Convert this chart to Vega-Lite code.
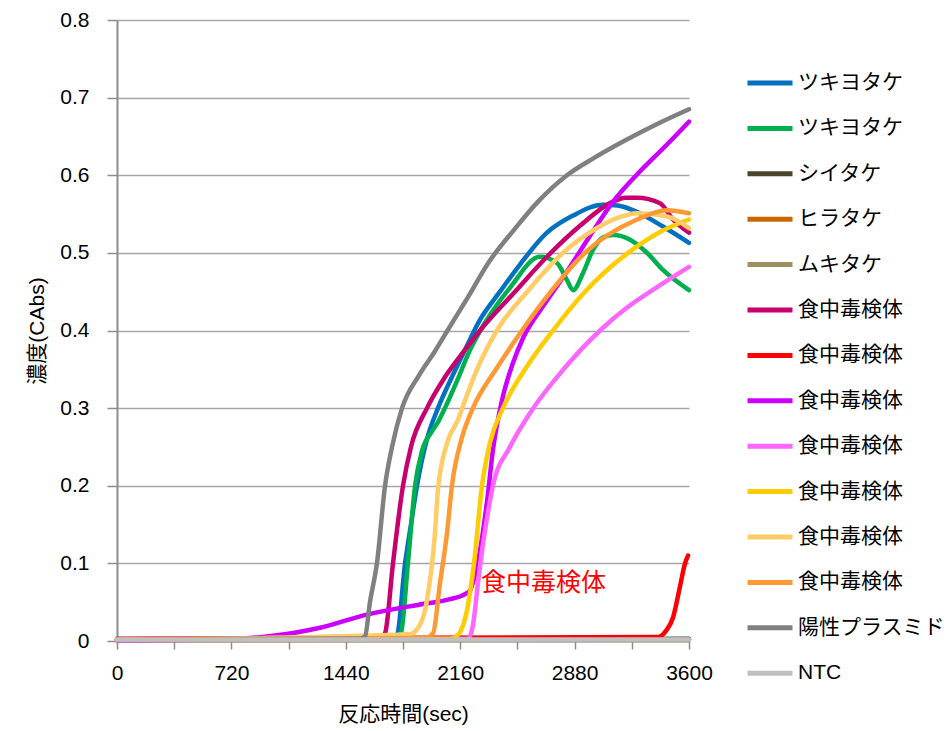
{
  "$schema": "https://vega.github.io/schema/vega-lite/v6.json",
  "width": 572,
  "height": 621,
  "autosize": {"type": "none"},
  "padding": {"left": 117, "top": 20, "right": 261, "bottom": 90},
  "background": "white",
  "config": {
    "view": {"stroke": null},
    "font": "Liberation Sans, Noto Sans CJK JP",
    "axis": {
      "labelFont": "Liberation Sans, Noto Sans CJK JP",
      "titleFont": "Liberation Sans, Noto Sans CJK JP",
      "labelFontSize": 21,
      "titleFontSize": 21,
      "titleFontWeight": "normal",
      "labelColor": "#000000",
      "titleColor": "#000000",
      "domainColor": "#8c8c8c",
      "domainWidth": 2,
      "tickColor": "#8c8c8c",
      "tickWidth": 1.5
    }
  },
  "datasets": {
    "curves": [
      {"s":"01 ツキヨタケ","t":0,"v":0.002},{"s":"01 ツキヨタケ","t":1718,"v":0.003},{"s":"01 ツキヨタケ","t":1762,"v":0.008},{"s":"01 ツキヨタケ","t":1813,"v":0.1},{"s":"01 ツキヨタケ","t":1850,"v":0.15},{"s":"01 ツキヨタケ","t":1888,"v":0.2},{"s":"01 ツキヨタケ","t":1951,"v":0.26},{"s":"01 ツキヨタケ","t":2020,"v":0.3},{"s":"01 ツキヨタケ","t":2096,"v":0.335},{"s":"01 ツキヨタケ","t":2190,"v":0.375},{"s":"01 ツキヨタケ","t":2285,"v":0.414},{"s":"01 ツキヨタケ","t":2410,"v":0.45},{"s":"01 ツキヨタケ","t":2536,"v":0.485},{"s":"01 ツキヨタケ","t":2706,"v":0.526},{"s":"01 ツキヨタケ","t":2870,"v":0.548},{"s":"01 ツキヨタケ","t":3059,"v":0.562},{"s":"01 ツキヨタケ","t":3150,"v":0.561},{"s":"01 ツキヨタケ","t":3247,"v":0.555},{"s":"01 ツキヨタケ","t":3436,"v":0.534},{"s":"01 ツキヨタケ","t":3600,"v":0.513},

      {"s":"02 ツキヨタケ","t":0,"v":0.002},{"s":"02 ツキヨタケ","t":1750,"v":0.003},{"s":"02 ツキヨタケ","t":1787,"v":0.01},{"s":"02 ツキヨタケ","t":1831,"v":0.1},{"s":"02 ツキヨタケ","t":1876,"v":0.2},{"s":"02 ツキヨタケ","t":1920,"v":0.245},{"s":"02 ツキヨタケ","t":1982,"v":0.27},{"s":"02 ツキヨタケ","t":2020,"v":0.282},{"s":"02 ツキヨタケ","t":2064,"v":0.3},{"s":"02 ツキヨタケ","t":2140,"v":0.335},{"s":"02 ツキヨタケ","t":2222,"v":0.375},{"s":"02 ツキヨタケ","t":2316,"v":0.41},{"s":"02 ツキヨタケ","t":2473,"v":0.455},{"s":"02 ツキヨタケ","t":2662,"v":0.495},{"s":"02 ツキヨタケ","t":2769,"v":0.487},{"s":"02 ツキヨタケ","t":2832,"v":0.465},{"s":"02 ツキヨタケ","t":2870,"v":0.452},{"s":"02 ツキヨタケ","t":2933,"v":0.474},{"s":"02 ツキヨタケ","t":2996,"v":0.504},{"s":"02 ツキヨタケ","t":3060,"v":0.52},{"s":"02 ツキヨタケ","t":3122,"v":0.523},{"s":"02 ツキヨタケ","t":3229,"v":0.517},{"s":"02 ツキヨタケ","t":3336,"v":0.5},{"s":"02 ツキヨタケ","t":3436,"v":0.478},{"s":"02 ツキヨタケ","t":3600,"v":0.452},

      {"s":"03 シイタケ","t":0,"v":0.002},{"s":"03 シイタケ","t":1800,"v":0.002},{"s":"03 シイタケ","t":3600,"v":0.003},
      {"s":"04 ヒラタケ","t":0,"v":0.002},{"s":"04 ヒラタケ","t":3600,"v":0.002},
      {"s":"05 ムキタケ","t":0,"v":0.001},{"s":"05 ムキタケ","t":3600,"v":0.002},

      {"s":"06 食中毒検体","t":0,"v":0.002},{"s":"06 食中毒検体","t":1655,"v":0.003},{"s":"06 食中毒検体","t":1687,"v":0.01},{"s":"06 食中毒検体","t":1737,"v":0.1},{"s":"06 食中毒検体","t":1800,"v":0.2},{"s":"06 食中毒検体","t":1850,"v":0.25},{"s":"06 食中毒検体","t":1951,"v":0.3},{"s":"06 食中毒検体","t":2064,"v":0.34},{"s":"06 食中毒検体","t":2190,"v":0.375},{"s":"06 食中毒検体","t":2285,"v":0.4},{"s":"06 食中毒検体","t":2505,"v":0.45},{"s":"06 食中毒検体","t":2706,"v":0.495},{"s":"06 食中毒検体","t":2914,"v":0.535},{"s":"06 食中毒検体","t":3122,"v":0.566},{"s":"06 食中毒検体","t":3200,"v":0.571},{"s":"06 食中毒検体","t":3273,"v":0.571},{"s":"06 食中毒検体","t":3418,"v":0.564},{"s":"06 食中毒検体","t":3499,"v":0.543},{"s":"06 食中毒検体","t":3600,"v":0.526},

      {"s":"07 食中毒検体","t":0,"v":0.003},{"s":"07 食中毒検体","t":3404,"v":0.005},{"s":"07 食中毒検体","t":3455,"v":0.013},{"s":"07 食中毒検体","t":3499,"v":0.03},{"s":"07 食中毒検体","t":3543,"v":0.07},{"s":"07 食中毒検体","t":3575,"v":0.1},{"s":"07 食中毒検体","t":3594,"v":0.11},

      {"s":"08 食中毒検体","t":0,"v":0.001},{"s":"08 食中毒検体","t":650,"v":0.002},{"s":"08 食中毒検体","t":900,"v":0.005},{"s":"08 食中毒検体","t":1100,"v":0.01},{"s":"08 食中毒検体","t":1278,"v":0.017},{"s":"08 食中毒検体","t":1573,"v":0.034},{"s":"08 食中毒検体","t":1907,"v":0.047},{"s":"08 食中毒検体","t":2077,"v":0.053},{"s":"08 食中毒検体","t":2196,"v":0.061},{"s":"08 食中毒検体","t":2222,"v":0.065},{"s":"08 食中毒検体","t":2253,"v":0.085},{"s":"08 食中毒検体","t":2285,"v":0.117},{"s":"08 食中毒検体","t":2329,"v":0.18},{"s":"08 食中毒検体","t":2366,"v":0.246},{"s":"08 食中毒検体","t":2423,"v":0.31},{"s":"08 食中毒検体","t":2492,"v":0.358},{"s":"08 食中毒検体","t":2555,"v":0.39},{"s":"08 食中毒検体","t":2694,"v":0.435},{"s":"08 食中毒検体","t":2832,"v":0.476},{"s":"08 食中毒検体","t":2977,"v":0.522},{"s":"08 食中毒検体","t":3122,"v":0.566},{"s":"08 食中毒検体","t":3273,"v":0.601},{"s":"08 食中毒検体","t":3449,"v":0.637},{"s":"08 食中毒検体","t":3600,"v":0.669},

      {"s":"09 食中毒検体","t":0,"v":0.001},{"s":"09 食中毒検体","t":2209,"v":0.003},{"s":"09 食中毒検体","t":2240,"v":0.02},{"s":"09 食中毒検体","t":2272,"v":0.075},{"s":"09 食中毒検体","t":2300,"v":0.12},{"s":"09 食中毒検体","t":2330,"v":0.16},{"s":"09 食中毒検体","t":2366,"v":0.2},{"s":"09 食中毒検体","t":2473,"v":0.25},{"s":"09 食中毒検体","t":2620,"v":0.3},{"s":"09 食中毒検体","t":2810,"v":0.35},{"s":"09 食中毒検体","t":3040,"v":0.4},{"s":"09 食中毒検体","t":3200,"v":0.428},{"s":"09 食中毒検体","t":3355,"v":0.45},{"s":"09 食中毒検体","t":3600,"v":0.482},

      {"s":"10 食中毒検体","t":0,"v":0.002},{"s":"10 食中毒検体","t":2096,"v":0.003},{"s":"10 食中毒検体","t":2146,"v":0.008},{"s":"10 食中毒検体","t":2203,"v":0.04},{"s":"10 食中毒検体","t":2247,"v":0.1},{"s":"10 食中毒検体","t":2297,"v":0.2},{"s":"10 食中毒検体","t":2347,"v":0.255},{"s":"10 食中毒検体","t":2429,"v":0.3},{"s":"10 食中毒検体","t":2568,"v":0.35},{"s":"10 食中毒検体","t":2744,"v":0.4},{"s":"10 食中毒検体","t":2945,"v":0.45},{"s":"10 食中毒検体","t":3216,"v":0.5},{"s":"10 食中毒検体","t":3418,"v":0.527},{"s":"10 食中毒検体","t":3600,"v":0.543},

      {"s":"11 食中毒検体","t":0,"v":0.002},{"s":"11 食中毒検体","t":648,"v":0.003},{"s":"11 食中毒検体","t":1573,"v":0.007},{"s":"11 食中毒検体","t":1844,"v":0.009},{"s":"11 食中毒検体","t":1888,"v":0.015},{"s":"11 食中毒検体","t":1951,"v":0.053},{"s":"11 食中毒検体","t":2001,"v":0.139},{"s":"11 食中毒検体","t":2020,"v":0.195},{"s":"11 食中毒検体","t":2077,"v":0.255},{"s":"11 食中毒検体","t":2146,"v":0.285},{"s":"11 食中毒検体","t":2190,"v":0.31},{"s":"11 食中毒検体","t":2266,"v":0.35},{"s":"11 食中毒検体","t":2391,"v":0.4},{"s":"11 食中毒検体","t":2582,"v":0.45},{"s":"11 食中毒検体","t":2807,"v":0.5},{"s":"11 食中毒検体","t":3021,"v":0.532},{"s":"11 食中毒検体","t":3150,"v":0.545},{"s":"11 食中毒検体","t":3273,"v":0.551},{"s":"11 食中毒検体","t":3461,"v":0.547},{"s":"11 食中毒検体","t":3600,"v":0.532},

      {"s":"12 食中毒検体","t":0,"v":0.002},{"s":"12 食中毒検体","t":1938,"v":0.004},{"s":"12 食中毒検体","t":1989,"v":0.01},{"s":"12 食中毒検体","t":2033,"v":0.075},{"s":"12 食中毒検体","t":2077,"v":0.139},{"s":"12 食中毒検体","t":2108,"v":0.2},{"s":"12 食中毒検体","t":2171,"v":0.262},{"s":"12 食中毒検体","t":2240,"v":0.3},{"s":"12 食中毒検体","t":2385,"v":0.35},{"s":"12 食中毒検体","t":2549,"v":0.4},{"s":"12 食中毒検体","t":2730,"v":0.45},{"s":"12 食中毒検体","t":2945,"v":0.5},{"s":"12 食中毒検体","t":3273,"v":0.543},{"s":"12 食中毒検体","t":3461,"v":0.555},{"s":"12 食中毒検体","t":3600,"v":0.551},

      {"s":"13 陽性プラスミド","t":0,"v":0.002},{"s":"13 陽性プラスミド","t":1529,"v":0.003},{"s":"13 陽性プラスミド","t":1561,"v":0.006},{"s":"13 陽性プラスミド","t":1592,"v":0.05},{"s":"13 陽性プラスミド","t":1636,"v":0.1},{"s":"13 陽性プラスミド","t":1687,"v":0.2},{"s":"13 陽性プラスミド","t":1731,"v":0.25},{"s":"13 陽性プラスミド","t":1794,"v":0.3},{"s":"13 陽性プラスミド","t":1900,"v":0.342},{"s":"13 陽性プラスミド","t":2000,"v":0.373},{"s":"13 陽性プラスミド","t":2080,"v":0.4},{"s":"13 陽性プラスミド","t":2200,"v":0.44},{"s":"13 陽性プラスミド","t":2340,"v":0.488},{"s":"13 陽性プラスミド","t":2500,"v":0.53},{"s":"13 陽性プラスミド","t":2650,"v":0.566},{"s":"13 陽性プラスミド","t":2832,"v":0.6},{"s":"13 陽性プラスミド","t":3000,"v":0.622},{"s":"13 陽性プラスミド","t":3200,"v":0.645},{"s":"13 陽性プラスミド","t":3400,"v":0.666},{"s":"13 陽性プラスミド","t":3600,"v":0.685},

      {"s":"14 NTC","t":0,"v":0.002},{"s":"14 NTC","t":3600,"v":0.002}
    ],
    "note": [{"t": 2291, "v": 0.0747, "label": "食中毒検体"}]
  },
  "layer": [
    {
      "data": {"name": "curves"},
      "mark": {"type": "line", "strokeWidth": 4.5, "interpolate": "monotone", "strokeCap": "round", "strokeJoin": "round"},
      "encoding": {
        "x": {
          "field": "t", "type": "quantitative",
          "scale": {"domain": [0, 3600], "nice": false, "zero": false},
          "axis": {
            "title": "反応時間(sec)",
            "values": [0, 360, 720, 1080, 1440, 1800, 2160, 2520, 2880, 3240, 3600],
            "labelExpr": "datum.value % 720 === 0 ? format(datum.value, 'd') : ''",
            "grid": false,
            "tickSize": 8,
            "labelPadding": 13,
            "titlePadding": 20,
            "labelFlush": false,
            "labelOverlap": false
          }
        },
        "y": {
          "field": "v", "type": "quantitative",
          "scale": {"domain": [0, 0.8], "nice": false},
          "axis": {
            "title": "濃度(CAbs)",
            "values": [0, 0.1, 0.2, 0.3, 0.4, 0.5, 0.6, 0.7, 0.8],
            "labelExpr": "datum.value === 0 ? '0' : format(datum.value, '.1f')",
            "grid": true,
            "gridColor": "#a6a6a6",
            "gridWidth": 1.5,
            "tickSize": 10,
            "labelPadding": 18,
            "titlePadding": 12,
            "labelFlush": false
          }
        },
        "color": {
          "field": "s", "type": "nominal",
          "scale": {
            "domain": ["01 ツキヨタケ","02 ツキヨタケ","03 シイタケ","04 ヒラタケ","05 ムキタケ","06 食中毒検体","07 食中毒検体","08 食中毒検体","09 食中毒検体","10 食中毒検体","11 食中毒検体","12 食中毒検体","13 陽性プラスミド","14 NTC"],
            "range": ["#0070C0","#00B050","#4A452A","#CC6600","#9C9060","#C8006E","#FF0000","#CC00FF","#FF66FF","#FFCC00","#FFCC66","#FF9933","#808080","#C0C0C0"]
          },
          "legend": {
            "title": null,
            "orient": "none",
            "legendX": 628,
            "legendY": 38,
            "symbolType": "stroke",
            "symbolSize": 2025,
            "symbolStrokeWidth": 5,
            "labelFontSize": 21,
            "labelFont": "Liberation Sans, Noto Sans CJK JP",
            "labelColor": "#000000",
            "labelOffset": 3,
            "rowPadding": 10.4,
            "labelLimit": 300,
            "labelExpr": "substring(datum.label, 3)"
          }
        }
      }
    },
    {
      "data": {"name": "note"},
      "mark": {"type": "text", "color": "#FF0000", "fontSize": 25, "align": "left", "baseline": "middle", "font": "Noto Sans CJK JP"},
      "encoding": {
        "x": {"field": "t", "type": "quantitative"},
        "y": {"field": "v", "type": "quantitative"},
        "text": {"field": "label"}
      }
    }
  ]
}
